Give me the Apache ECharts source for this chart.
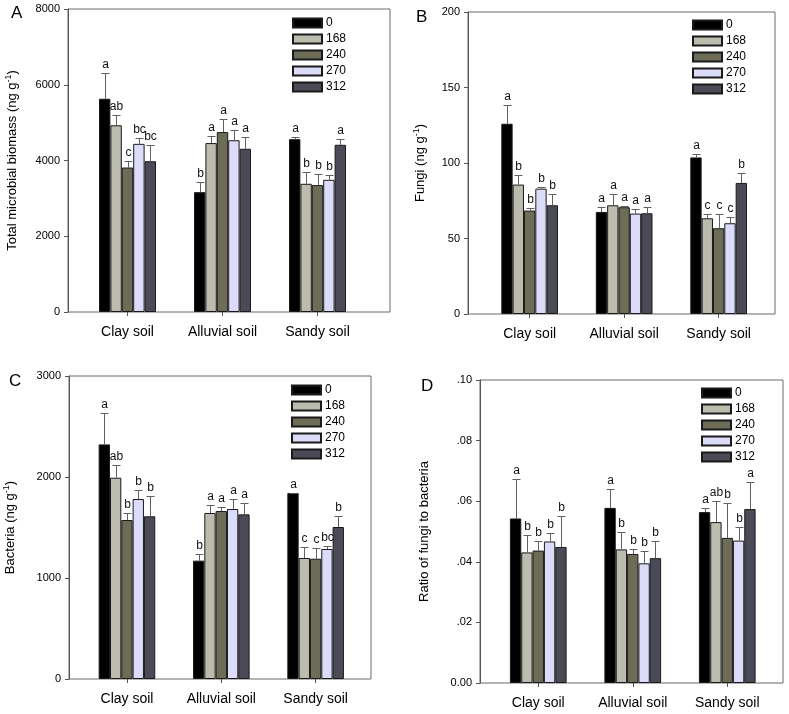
<!DOCTYPE html>
<html>
<head>
<meta charset="utf-8">
<script src="https://cdn.jsdelivr.net/npm/echarts@6/dist/echarts.min.js"></script>
<style>
html,body{margin:0;padding:0;background:#fff;}
#c{width:789px;height:714px;}
</style>
</head>
<body>
<div id="c"></div>
<script>
// ---------- data ----------
const categories = ['Clay soil', 'Alluvial soil', 'Sandy soil'];
const seriesNames = ['0', '168', '240', '270', '312'];
const seriesColors = ['#000000', '#bcbcae', '#6d6d57', '#dcdcfa', '#4b4b58'];

// Panel A: total microbial biomass (rows = series, cols = categories)
const biomassMean = [[5630, 3165, 4563], [4930, 4460, 3385], [3815, 4750, 3350], [4440, 4535, 3490], [3980, 4310, 4415]];
const biomassErr  = [[690, 255, 70], [270, 175, 300], [160, 335, 290], [165, 280, 115], [420, 315, 165]];
const biomassSig  = [['a', 'b', 'a'], ['ab', 'a', 'b'], ['c', 'a', 'b'], ['bc', 'a', 'b'], ['bc', 'a', 'a']];
const biomassTicks = [0, 8000, 2000];

// Panel B: fungi
const fungiMean = [[126.0, 67.6, 103.7], [85.7, 72.0, 63.4], [68.5, 70.7, 56.8], [83.0, 66.5, 60.1], [72.0, 66.7, 86.8]];
const fungiErr  = [[12.5, 3.3, 2.5], [6.2, 7.3, 2.7], [1.5, 0.5, 9.3], [1.4, 3.1, 4.2], [7.3, 4.0, 6.8]];
const fungiSig  = [['a', 'a', 'a'], ['b', 'a', 'c'], ['b', 'a', 'c'], ['b', 'a', 'c'], ['b', 'a', 'b']];
const fungiTicks = [0, 200, 50];

// Panel C: bacteria
const bacteriaMean = [[2323, 1172, 1842], [1993, 1644, 1198], [1574, 1663, 1191], [1782, 1683, 1287], [1611, 1630, 1505]];
const bacteriaErr  = [[307, 66, 4], [122, 80, 109], [70, 40, 106], [86, 96, 30], [200, 113, 109]];
const bacteriaSig  = [['a', 'b', 'a'], ['ab', 'a', 'c'], ['b', 'a', 'c'], ['b', 'a', 'bc'], ['b', 'a', 'b']];
const bacteriaTicks = [0, 3000, 1000];

// Panel D: ratio of fungi to bacteria
const ratioMean = [[0.0543, 0.0578, 0.0564], [0.0431, 0.0441, 0.0531], [0.0437, 0.0426, 0.0479], [0.0467, 0.0395, 0.0470], [0.0449, 0.0412, 0.0574]];
const ratioErr  = [[0.0130, 0.0063, 0.0013], [0.0059, 0.0059, 0.0070], [0.0030, 0.0015, 0.0116], [0.0029, 0.0041, 0.0044], [0.0101, 0.0056, 0.0090]];
const ratioSig  = [['a', 'a', 'a'], ['b', 'b', 'ab'], ['b', 'b', 'b'], ['b', 'b', 'b'], ['b', 'b', 'a']];
const ratioTicks = [0, 0.10, 0.02];

const panelLetters = ['A', 'B', 'C', 'D'];
const yNames = [
  '{t|Total microbial biomass (ng g}{s|-1}{t|)}',
  '{t|Fungi (ng g}{s|-1}{t|)}',
  '{t|Bacteria (ng g}{s|-1}{t|)}',
  '{t|Ratio of fungi to bacteria}'
];

// ---------- layout ----------
const FONT = '"Liberation Sans", Arial, Helvetica, sans-serif';
const layouts = [
  {frame: [68, 9, 322, 303], inner: [80, 285], legend: [292, 17], letter: [11, 5], nameGap: 47},
  {frame: [468, 12, 307, 302], inner: [482.4, 283.5], legend: [692, 19], letter: [416, 9], nameGap: 39},
  {frame: [69, 376, 302, 303], inner: [79.8, 283], legend: [291, 384], letter: [9, 373], nameGap: 50},
  {frame: [480, 380, 303, 303], inner: [491, 283.5], legend: [701, 387], letter: [421, 378], nameGap: 47}
];
const panels = [
  {mean: biomassMean, err: biomassErr, sig: biomassSig, ticks: biomassTicks},
  {mean: fungiMean, err: fungiErr, sig: fungiSig, ticks: fungiTicks},
  {mean: bacteriaMean, err: bacteriaErr, sig: bacteriaSig, ticks: bacteriaTicks},
  {mean: ratioMean, err: ratioErr, sig: ratioSig, ticks: ratioTicks}
];

const grid = [], xAxis = [], yAxis = [], series = [], legend = [], title = [];

panels.forEach((p, i) => {
  const L = layouts[i];
  const [fl, ft, fw, fh] = L.frame;
  // frame box
  grid.push({left: fl, top: ft, width: fw, height: fh, show: true, borderColor: '#6a6a6a', borderWidth: 1, backgroundColor: 'transparent'});
  // inner plotting grid
  grid.push({left: L.inner[0], top: ft, width: L.inner[1], height: fh});
  const gi = grid.length - 1;
  xAxis.push({
    type: 'category', gridIndex: gi, data: categories,
    axisLine: {show: false},
    axisTick: {show: true, alignWithLabel: true, length: 4, lineStyle: {color: '#555'}},
    axisLabel: {fontSize: 14, color: '#000', margin: 13, fontFamily: FONT}
  });
  yAxis.push({
    type: 'value', gridIndex: gi,
    min: p.ticks[0], max: p.ticks[1], interval: p.ticks[2],
    offset: L.inner[0] - fl,
    splitLine: {show: false},
    axisLine: {show: true, lineStyle: {color: '#555', width: 1}},
    axisTick: {show: true, length: 4, lineStyle: {color: '#555'}},
    axisLabel: {
      fontSize: 11, color: '#000', margin: 8, fontFamily: FONT,
      formatter: i === 3 ? (v => v === 0 ? '0.00' : v.toFixed(2).replace(/^0/, '')) : (v => String(Math.round(v)))
    },
    name: yNames[i], nameLocation: 'middle', nameGap: L.nameGap,
    nameTextStyle: {
      fontFamily: FONT, color: '#000',
      rich: {
        t: {fontSize: 13, fontFamily: FONT, color: '#000', lineHeight: 17},
        s: {fontSize: 9, fontFamily: FONT, color: '#000', verticalAlign: 'top', lineHeight: 17}
      }
    }
  });
  const ai = xAxis.length - 1;
  seriesNames.forEach((name, k) => {
    series.push({
      type: 'bar', name: name, xAxisIndex: ai, yAxisIndex: ai,
      data: p.mean[k], barGap: '0%', barCategoryGap: '40%',
      itemStyle: {color: seriesColors[k], borderColor: '#1a1a1a', borderWidth: 1},
      emphasis: {disabled: true}, animation: false
    });
  });
  // error bars + significance letters
  const ebData = [], ebSig = [];
  seriesNames.forEach((name, k) => {
    categories.forEach((c, j) => {
      ebData.push([j, p.mean[k][j], p.err[k][j], k]);
      ebSig.push(p.sig[k][j]);
    });
  });
  series.push({
    type: 'custom', xAxisIndex: ai, yAxisIndex: ai, z: 5, animation: false,
    silent: true,
    data: ebData,
    renderItem: function (params, api) {
      const j = api.value(0), v = api.value(1), e = api.value(2), k = api.value(3);
      const base = api.coord([j, v]);
      const top = api.coord([j, v + e]);
      const band = api.size([1, 0])[0];
      const w = band * 0.6 / 5;
      const x = Math.round(base[0] + (k - 2) * w) + 0.5;
      const yb = base[1], yt = Math.round(top[1]) + 0.5;
      const st = {stroke: '#606060', lineWidth: 1};
      return {
        type: 'group',
        children: [
          {type: 'line', shape: {x1: x, y1: yb, x2: x, y2: yt}, style: st},
          {type: 'line', shape: {x1: x - 4, y1: yt, x2: x + 4, y2: yt}, style: st},
          {type: 'text', x: x, y: yt - 3, style: {text: ebSig[params.dataIndex], fill: '#111', font: '12px ' + FONT, textAlign: 'center', textVerticalAlign: 'bottom'}}
        ]
      };
    }
  });
  legend.push({
    orient: 'vertical', left: L.legend[0], top: L.legend[1], padding: 0,
    itemWidth: 29, itemHeight: 9, itemGap: 4,
    icon: 'rect', selectedMode: false,
    data: seriesNames,
    textStyle: {fontSize: 12, color: '#000', fontFamily: FONT, padding: [0, 0, 0, -1]}
  });
  title.push({text: panelLetters[i], left: L.letter[0], top: L.letter[1], padding: 0,
    textStyle: {fontSize: 17, fontWeight: 'normal', color: '#000', fontFamily: FONT}});
});

const chart = echarts.init(document.getElementById('c'), null, {renderer: 'canvas'});
chart.setOption({animation: false, title, grid, xAxis, yAxis, legend, series});
</script>
</body>
</html>
